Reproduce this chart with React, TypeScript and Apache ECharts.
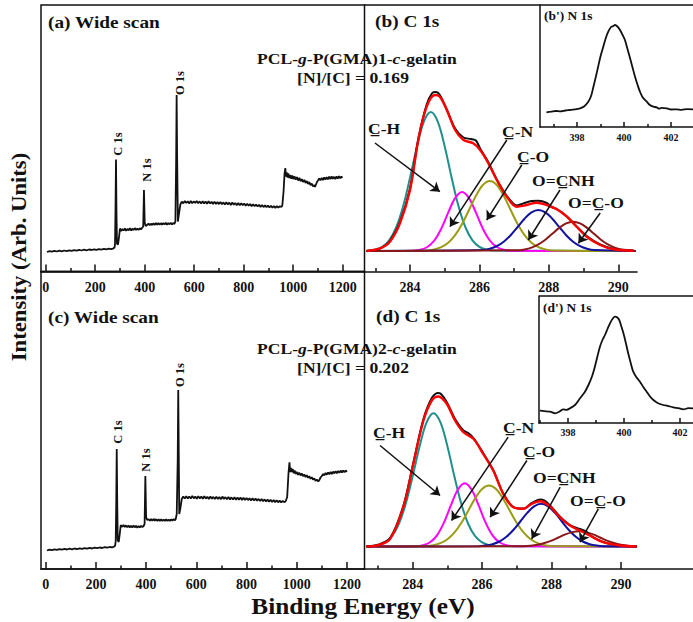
import React, { useEffect, useRef } from "react";
import * as echarts from "echarts";

const FONT = "Liberation Serif";
const INK = "#111";

// ---------- tick values ----------
const WIDE_TICKS = [0, 200, 400, 600, 800, 1000, 1200];
const WIDE_MINOR = [100, 300, 500, 700, 900, 1100];
const C1S_TICKS = [284, 286, 288, 290];
const C1S_MINOR = [283, 285, 287, 289];
const N1S_TICKS = [398, 400, 402];
const N1S_MINOR = [397, 399, 401, 403];

// ---------- (a) wide scan ----------
const WIDE_A = [
  [5, 19.5], [15, 20.3], [25, 19.8], [35, 20.6], [45, 20], [55, 20.8], [65, 20.2], [75, 21], [85, 20.4], [95, 21.2],
  [105, 20.6], [115, 21.3], [125, 20.8], [135, 21.6], [145, 21], [155, 21.8], [165, 21.2], [175, 22], [185, 21.5], [195, 22.2],
  [205, 21.6], [215, 22.3], [225, 21.9], [235, 22.6], [245, 22.1], [255, 22.9], [265, 22.4], [274, 23.2],
  [278, 24], [280, 27], [282, 62], [284, 112], [286, 58], [288, 28], [292, 27], [296, 34], [300, 43],
  [305, 40.5], [310, 42.5], [315, 41], [320, 43], [325, 40.8], [330, 42.6], [335, 41.2], [340, 43.2], [345, 41], [350, 42.8],
  [355, 41.4], [360, 43.4], [365, 41.6], [370, 43], [375, 41.5], [380, 43.3], [385, 42], [390, 43.8], [394, 45], [397, 81.5],
  [400, 49], [404, 45.5],
  [410, 46.5], [415, 48], [420, 46.2], [425, 47.8], [430, 46.4], [435, 48.2], [440, 46.6], [445, 48.4], [450, 46.8], [455, 48.6],
  [460, 46.7], [465, 48.3], [470, 46.9], [475, 48.5], [480, 47], [485, 48.7], [490, 46.8], [495, 48.4], [500, 47.2], [505, 48.8],
  [510, 47], [515, 48.5], [520, 47.6], [524, 50], [527, 110], [529, 176.5], [531, 115], [534, 50], [538, 57], [544, 67],
  [550, 69.8], [556, 68.2], [562, 70.5], [568, 68.5], [574, 70.2], [580, 68], [586, 70.6], [592, 68.3], [598, 70], [604, 68.6],
  [610, 70.4], [616, 68.2], [622, 70.1], [628, 67.9], [634, 70.3], [640, 68.1], [646, 69.9], [652, 67.8], [658, 70.2], [664, 68],
  [670, 69.6], [676, 67.6], [682, 69.8], [688, 67.5], [694, 69.4], [700, 67.4], [706, 69.6], [712, 67.2], [718, 69.1], [724, 67],
  [730, 69.3], [736, 67.1], [742, 68.8], [748, 66.6], [754, 68.9], [760, 66.8], [766, 68.5], [772, 66.3], [778, 68.4], [784, 66.2],
  [790, 68.1], [796, 66.4], [802, 67.9], [808, 65.8], [814, 67.8], [820, 65.9], [826, 67.4], [832, 65.4], [838, 67.3], [844, 65.2],
  [850, 67], [856, 65], [862, 66.8], [868, 64.6], [874, 66.5], [880, 64.4], [886, 66.2], [892, 64.3], [898, 65.9], [904, 64],
  [910, 65.8], [916, 63.8], [922, 65.5], [928, 63.6], [934, 65.4], [940, 63.9], [946, 65.2], [952, 64.5], [956, 66],
  [961, 80], [965, 98], [968, 103.5], [971, 95], [974, 99], [977, 94], [980, 98], [984, 93.5], [988, 96.5], [992, 92.8],
  [996, 96], [1000, 92.5], [1005, 95.2], [1010, 91.8], [1015, 94.4], [1020, 91], [1025, 93.6], [1030, 90.2], [1035, 92.4], [1040, 89.5],
  [1045, 91.6], [1050, 88.6], [1055, 90.4], [1060, 87.6], [1065, 89.4], [1070, 86.4], [1075, 88], [1080, 85.2], [1085, 86.5], [1088, 84.5],
  [1092, 87], [1096, 89.5], [1100, 91], [1105, 93], [1110, 91.2], [1115, 93.6], [1120, 91.5], [1125, 94], [1130, 92], [1135, 94.4],
  [1140, 92.2], [1145, 94.8], [1150, 92.4], [1155, 95], [1160, 92.6], [1165, 94.7], [1170, 92.3], [1175, 95.2], [1180, 92.8], [1185, 95.4],
  [1190, 93.2], [1195, 95], [1198, 93.5],
];

// ---------- (c) wide scan ----------
const WIDE_C = [
  [5, 18.5], [15, 19.4], [25, 18.9], [35, 19.7], [45, 19.1], [55, 19.9], [65, 19.3], [75, 20.1], [85, 19.5], [95, 20.3],
  [105, 19.7], [115, 20.5], [125, 19.9], [135, 20.7], [145, 20.1], [155, 20.9], [165, 20.3], [175, 21.1], [185, 20.5], [195, 21.3],
  [205, 20.8], [215, 21.5], [225, 21], [235, 21.8], [245, 21.3], [255, 22], [265, 21.6], [274, 22.5],
  [277, 24], [279, 28], [281, 65], [283, 120], [285, 66], [287, 29], [291, 27], [295, 35], [299, 44],
  [305, 42.2], [310, 44], [315, 42], [320, 43.6], [325, 41.8], [330, 43.5], [335, 41.6], [340, 43.2], [345, 41.5], [350, 43.4],
  [355, 41.7], [360, 43.1], [365, 41.4], [370, 43], [375, 41.6], [380, 43.2], [385, 41.8], [390, 43], [394, 45], [397, 93],
  [400, 52], [404, 49],
  [410, 49.8], [415, 48.2], [420, 49.9], [425, 48.3], [430, 50.1], [435, 48.4], [440, 49.8], [445, 48.1], [450, 49.7], [455, 48.2],
  [460, 49.6], [465, 48], [470, 49.5], [475, 48.1], [480, 49.7], [485, 48.2], [490, 49.4], [495, 48], [500, 49.6], [505, 48.3],
  [510, 49.8], [515, 48.6], [518, 50], [522, 55], [526, 110], [528, 179], [530, 118], [532, 55], [536, 60], [542, 70],
  [548, 72.5], [554, 70.6], [560, 72.8], [566, 70.4], [572, 72.6], [578, 70.5], [584, 72.9], [590, 70.7], [596, 72.4], [602, 70.3],
  [608, 72.7], [614, 70.6], [620, 72.5], [626, 70.2], [632, 72.8], [638, 70.4], [644, 72.3], [650, 70.1], [656, 72.4], [662, 70.3],
  [668, 72.1], [674, 69.9], [680, 72.2], [686, 70], [692, 71.9], [698, 69.8], [704, 72.4], [710, 70.1], [716, 71.8], [722, 69.7],
  [728, 71.9], [734, 69.6], [740, 71.6], [746, 69.4], [752, 71.7], [758, 69.3], [764, 71.4], [770, 69.2], [776, 71.5], [782, 69.1],
  [788, 71.2], [794, 69], [800, 71.1], [806, 68.9], [812, 70.8], [818, 68.6], [824, 70.7], [830, 68.4], [836, 70.5], [842, 68.2],
  [848, 70.1], [854, 68], [860, 69.9], [866, 67.8], [872, 69.6], [878, 67.5], [884, 69.4], [890, 67.3], [896, 69.2], [902, 67.1],
  [908, 68.9], [914, 66.9], [920, 68.7], [926, 66.7], [932, 68.4], [938, 66.6], [944, 68.2], [950, 66.8], [956, 67.8],
  [962, 72], [967, 95], [971, 106.6], [974, 97], [977, 101], [980, 97], [984, 100], [988, 95.8], [992, 98.4], [996, 95],
  [1000, 97.2], [1005, 94.2], [1010, 96.4], [1015, 93.5], [1020, 95.5], [1025, 92.8], [1030, 94.6], [1035, 92], [1040, 93.8], [1045, 91.2],
  [1050, 92.8], [1055, 90.2], [1060, 91.8], [1065, 89.4], [1070, 90.6], [1075, 88.2], [1080, 89.4], [1086, 87.6], [1090, 89], [1095, 91.5],
  [1100, 93], [1105, 95], [1110, 93.6], [1115, 96], [1120, 94.4], [1125, 96.6], [1130, 94.8], [1135, 97], [1140, 95], [1145, 97.4],
  [1150, 95.6], [1155, 97.8], [1160, 95.8], [1165, 98], [1170, 96.2], [1175, 98.4], [1180, 96.5], [1185, 98.6], [1190, 96.8], [1195, 98.5],
  [1200, 97.2],
];

// ---------- (b) C 1s ----------
const EXP_B = [
  [282.75, 20.5], [283.0, 21.5], [283.2, 24], [283.42, 30.5], [283.71, 49.5], [284.0, 83], [284.24, 133], [284.48, 167],
  [284.64, 178.5], [284.75, 179.5], [284.86, 176.5], [285.06, 162], [285.3, 143], [285.54, 134], [285.75, 132.5], [285.9, 131],
  [286.02, 123], [286.26, 109], [286.5, 92], [286.79, 75.5], [287.08, 66], [287.3, 68.5], [287.5, 70.5], [287.7, 70.8],
  [287.94, 68.5], [288.1, 64], [288.23, 62.5], [288.52, 55], [288.8, 45], [289.09, 35.5], [289.48, 27], [289.86, 22.5],
  [290.1, 21.5], [290.44, 20.8],
];
const FIT_B = [
  [282.75, 20.5], [283.14, 23.2], [283.42, 29.8], [283.71, 48.2], [284.0, 81.5], [284.24, 131.5], [284.48, 164.8], [284.72, 176.5],
  [284.86, 174.8], [285.06, 161.5], [285.3, 141.5], [285.54, 131.5], [285.82, 128.2], [286.02, 121.5], [286.26, 108.2], [286.5, 91.5],
  [286.79, 74.8], [287.08, 64.8], [287.36, 66.5], [287.65, 68.8], [287.94, 66.5], [288.23, 62.2], [288.52, 54.8], [288.8, 44.8],
  [289.09, 34.8], [289.48, 26.5], [289.86, 22.2], [290.44, 20.8],
];
const CH_B = [
  [282.75, 20.5], [282.8, 20.9], [283.0, 22.0], [283.2, 24.7], [283.4, 31.2], [283.6, 44.0], [283.8, 65.0], [284.0, 93.7],
  [284.2, 125.0], [284.4, 149.9], [284.6, 159.5], [284.8, 149.9], [285.0, 125.0], [285.2, 93.7], [285.4, 65.0], [285.6, 44.0],
  [285.8, 31.2], [286.0, 24.7], [286.2, 22.0], [286.4, 20.9], [290.5, 20.5],
];
const CN_B = [
  [282.75, 20.5], [284.1, 20.8], [284.3, 21.7], [284.5, 24.5], [284.7, 31.0], [284.9, 42.8], [285.1, 58.8], [285.3, 73.4],
  [285.5, 79.5], [285.7, 73.4], [285.9, 58.8], [286.1, 42.8], [286.3, 31.0], [286.5, 24.5], [286.7, 21.7], [286.9, 20.8], [290.5, 20.5],
];
const CO_B = [
  [282.75, 20.5], [284.5, 21.1], [284.7, 22.1], [284.9, 24.3], [285.1, 28.7], [285.3, 36.3], [285.5, 47.5], [285.7, 61.5],
  [285.9, 75.7], [286.1, 86.5], [286.3, 90.5], [286.5, 86.5], [286.7, 75.7], [286.9, 61.5], [287.1, 47.5], [287.3, 36.3],
  [287.5, 28.7], [287.7, 24.3], [287.9, 22.1], [288.1, 21.1], [290.5, 20.5],
];
const OCNH_B = [
  [282.75, 20.5], [286.1, 21.4], [286.3, 22.7], [286.5, 25.3], [286.7, 29.8], [286.9, 36.3], [287.1, 44.5], [287.3, 52.8],
  [287.5, 59.1], [287.7, 61.5], [287.9, 59.1], [288.1, 52.8], [288.3, 44.5], [288.5, 36.3], [288.7, 29.8], [288.9, 25.3],
  [289.1, 22.7], [289.3, 21.4], [290.5, 20.5],
];
const OCO_B = [
  [282.75, 20.5], [287.1, 21.2], [287.3, 22.1], [287.5, 23.9], [287.7, 27.1], [287.9, 31.8], [288.1, 37.7], [288.3, 43.6],
  [288.5, 48.1], [288.7, 49.8], [288.9, 48.1], [289.1, 43.6], [289.3, 37.7], [289.5, 31.8], [289.7, 27.1], [289.9, 23.9],
  [290.1, 22.1], [290.3, 21.2], [290.5, 20.5],
];

// ---------- (d) C 1s ----------
const EXP_D = [
  [282.67, 22.5], [283.0, 24.2], [283.35, 31], [283.73, 63], [284.02, 106.5], [284.31, 150], [284.55, 171], [284.72, 176],
  [284.8, 175.5], [284.98, 167], [285.22, 150], [285.46, 138.5], [285.6, 136], [285.75, 131], [286.03, 116], [286.32, 99],
  [286.61, 75.5], [286.9, 62], [287.19, 60.5], [287.43, 66], [287.67, 69.5], [287.8, 68.5], [287.96, 63.5], [288.24, 52.5],
  [288.53, 44], [288.82, 40], [289.0, 37.5], [289.1, 34], [289.49, 27], [289.97, 23.5], [290.46, 22.5],
];
const FIT_D = [
  [282.67, 22.5], [283.0, 23.8], [283.35, 30.2], [283.73, 61.8], [284.02, 105.2], [284.31, 148.5], [284.55, 168.5], [284.74, 172.5],
  [284.98, 165.2], [285.22, 148.5], [285.46, 136.8], [285.75, 130.2], [286.03, 115.2], [286.32, 98.5], [286.61, 75.2], [286.9, 61.8],
  [287.19, 60.2], [287.43, 65.2], [287.67, 67.8], [287.96, 62.5], [288.24, 51.8], [288.53, 43.5], [288.82, 38.5], [289.1, 33.5],
  [289.49, 26.8], [289.97, 23.5], [290.46, 22.5],
];
const CH_D = [
  [282.67, 22.5], [282.8, 22.9], [283.0, 23.9], [283.2, 26.6], [283.4, 32.8], [283.6, 45.0], [283.8, 65.2], [284.0, 92.7],
  [284.2, 122.7], [284.4, 146.6], [284.6, 155.8], [284.8, 146.6], [285.0, 122.7], [285.2, 92.7], [285.4, 65.2], [285.6, 45.0],
  [285.8, 32.8], [286.0, 26.6], [286.2, 23.9], [286.4, 22.9], [290.46, 22.5],
];
const CN_D = [
  [282.67, 22.5], [284.1, 22.8], [284.3, 23.8], [284.5, 26.7], [284.7, 33.7], [284.9, 46.4], [285.1, 63.6], [285.3, 79.3],
  [285.5, 85.8], [285.7, 79.3], [285.9, 63.6], [286.1, 46.4], [286.3, 33.7], [286.5, 26.7], [286.7, 23.8], [286.9, 22.8], [290.46, 22.5],
];
const CO_D = [
  [282.67, 22.5], [284.4, 23.0], [284.6, 23.8], [284.8, 25.8], [285.0, 29.7], [285.2, 36.3], [285.4, 46.0], [285.6, 58.2],
  [285.8, 70.6], [286.0, 80.0], [286.2, 83.5], [286.4, 80.0], [286.6, 70.6], [286.8, 58.2], [287.0, 46.0], [287.2, 36.3],
  [287.4, 29.7], [287.6, 25.8], [287.8, 23.8], [288.0, 23.0], [290.46, 22.5],
];
const OCNH_D = [
  [282.67, 22.5], [285.9, 22.8], [286.1, 23.4], [286.3, 24.8], [286.5, 27.5], [286.7, 32.2], [286.9, 39.0], [287.1, 47.5],
  [287.3, 56.1], [287.5, 62.7], [287.7, 65.2], [287.9, 62.7], [288.1, 56.1], [288.3, 47.5], [288.5, 39.0], [288.7, 32.2],
  [288.9, 27.5], [289.1, 24.8], [289.3, 23.4], [289.5, 22.8], [290.46, 22.5],
];
const OCO_D = [
  [282.67, 22.5], [287.2, 22.8], [287.4, 23.3], [287.6, 24.3], [287.8, 26.0], [288.0, 28.4], [288.2, 31.5], [288.4, 34.6],
  [288.6, 36.9], [288.8, 37.8], [289.0, 36.9], [289.2, 34.6], [289.4, 31.5], [289.6, 28.4], [289.8, 26.0], [290.0, 24.3],
  [290.2, 23.3], [290.4, 22.8], [290.46, 22.5],
];

// ---------- N 1s insets ----------
const N1S_B = [
  [396.7, 14.7], [396.9, 15.3], [397.1, 16], [397.3, 15.6], [397.5, 16.5], [397.7, 17], [397.9, 17.6], [398.13, 18.7],
  [398.3, 20.5], [398.48, 25.3], [398.6, 31], [398.7, 40.3], [398.8, 50], [398.9, 60.3], [399.0, 70.5], [399.12, 80.3],
  [399.22, 88.5], [399.33, 95.3], [399.45, 100], [399.55, 101], [399.62, 102], [399.72, 100.5], [399.83, 97], [399.93, 92.5],
  [400.04, 87], [400.15, 78], [400.26, 68.7], [400.37, 59], [400.47, 50.3], [400.58, 42], [400.68, 35.3], [400.8, 29.5],
  [400.97, 25.3], [401.1, 22], [401.25, 20.3], [401.39, 19.7], [401.5, 18.3], [401.6, 19.2], [401.82, 18.7], [402.0, 17.5],
  [402.24, 17.7], [402.45, 17.2], [402.7, 17.9], [402.94, 17.7], [403.1, 17.4],
];
const N1S_D = [
  [397.0, 12.3], [397.15, 11.8], [397.36, 11.3], [397.54, 9.7], [397.7, 11.5], [397.83, 13.7], [397.95, 13.2], [398.07, 14.7],
  [398.25, 18], [398.43, 24.7], [398.6, 31], [398.73, 38], [398.85, 46], [398.96, 56.3], [399.05, 66.5], [399.14, 76.3],
  [399.23, 83], [399.32, 88], [399.41, 94], [399.5, 99.7], [399.6, 104.5], [399.68, 106.3], [399.76, 105.5], [399.83, 103],
  [399.9, 97], [399.98, 89.7], [400.07, 79.5], [400.15, 69.7], [400.24, 60], [400.33, 51.3], [400.45, 45.5], [400.57, 41.3],
  [400.69, 36], [400.81, 31.3], [400.93, 26.5], [401.05, 23], [401.2, 20], [401.4, 18], [401.55, 17.2], [401.76, 15.7],
  [401.95, 14.8], [402.12, 13.7], [402.3, 14.8], [402.46, 14.7], [402.7, 14.2],
];

// ---------- component names, colours, arrows ----------
const COMPONENT_LABELS = ["C\u0332-H", "C\u0332-N", "C\u0332-O", "O=C\u0332NH", "O=C\u0332-O"];
const COMPONENT_COLORS = ["#1f8f8c", "#ff00ff", "#9c9c14", "#1212a0", "#8b1818"];
const ARROWS_B = [
  [[282.99, 128.5], [284.86, 79.8]],
  [[286.79, 131.5], [285.15, 44.8]],
  [[287.22, 106.5], [286.21, 51.5]],
  [[288.32, 81.5], [287.41, 31.5]],
  [[289.48, 58.5], [288.85, 28.2]],
];
const ARROWS_D = [
  [[283.06, 123.5], [284.79, 73.5]],
  [[286.75, 131.8], [285.12, 48.5]],
  [[287.29, 108.5], [286.23, 51.8]],
  [[288.25, 81.8], [287.43, 30.2]],
  [[289.35, 60.2], [288.82, 26.8]],
];

export default function App() {
  const ref = useRef<HTMLDivElement>(null);

  useEffect(() => {
    if (!ref.current) return;
    const chart = echarts.init(ref.current, undefined, { renderer: "svg" });

    const base = { outerBoundsMode: "none", containLabel: false };
    const grids: any[] = [
      { ...base, left: 41, top: 5, width: 323.5, height: 266.5, show: true, borderColor: INK, borderWidth: 1.5 }, // a
      { ...base, left: 364.5, top: 5, width: 272.5, height: 266.5, show: false }, // b
      { ...base, left: 540, top: 5, width: 200, height: 122, show: false }, // b'
      { ...base, left: 41, top: 271.5, width: 323.5, height: 297.5, show: true, borderColor: INK, borderWidth: 1.5 }, // c
      { ...base, left: 364.5, top: 271.5, width: 375.5, height: 297.5, show: false }, // d
      { ...base, left: 539, top: 296, width: 201, height: 127, show: false }, // d'
    ];

    const ranges = [
      [-19, 1288], [282.689, 290.54], [396.426, 404.937],
      [-18.7, 1270], [282.611, 293.432], [396.964, 404.143],
    ];
    const majors = [WIDE_TICKS, C1S_TICKS, N1S_TICKS, WIDE_TICKS, C1S_TICKS, N1S_TICKS];
    const minors = [WIDE_MINOR, C1S_MINOR, N1S_MINOR, WIDE_MINOR, C1S_MINOR, N1S_MINOR];
    const small = [false, false, true, false, false, true];
    const margins = [9, 9, 5, 8, 8, 4];

    const xAxes: any[] = [];
    grids.forEach((_, g) => {
      const s = small[g];
      const fs = s ? 10 : 14;
      xAxes.push({
        type: "value", gridIndex: g, min: ranges[g][0], max: ranges[g][1], position: "bottom",
        axisLine: { show: true, onZero: false, lineStyle: { color: INK, width: 1.5 } },
        axisTick: { show: true, inside: true, length: s ? 5 : 7, customValues: majors[g], lineStyle: { color: INK, width: 1.5 } },
        axisLabel: {
          show: true, customValues: majors[g], margin: margins[g], fontSize: fs,
          fontWeight: "bold", fontFamily: FONT, color: INK,
          formatter: (v: number) => "{t|" + String(v) + "}",
          rich: { t: { fontFamily: FONT, fontWeight: "bold", fontSize: fs, color: INK } },
        },
        splitLine: { show: false },
      });
      xAxes.push({
        type: "value", gridIndex: g, min: ranges[g][0], max: ranges[g][1], position: "bottom",
        axisLine: { show: false, onZero: false },
        axisTick: { show: true, inside: true, length: s ? 3 : 3.5, customValues: minors[g], lineStyle: { color: INK, width: 1.5 } },
        axisLabel: { show: false },
        splitLine: { show: false },
      });
    });

    const yAxes = grids.map((gr, g) => ({
      type: "value", gridIndex: g, min: 0, max: gr.height,
      show: g === 2 || g === 5,
      position: "left",
      axisLine: { show: true, onZero: false, lineStyle: { color: INK, width: 1.5 } },
      axisTick: { show: false }, axisLabel: { show: false }, splitLine: { show: false },
    }));

    const line = (data: number[][], xi: number, yi: number, color: string, width: number, smooth: number | boolean = false, z = 3) => ({
      type: "line", xAxisIndex: xi, yAxisIndex: yi, data, showSymbol: false, smooth, silent: true, z,
      lineStyle: { color, width }, emphasis: { disabled: true },
    });
    const arrows = (list: number[][][], xi: number, yi: number) => ({
      type: "lines", coordinateSystem: "cartesian2d", xAxisIndex: xi, yAxisIndex: yi, silent: true, z: 6,
      symbol: ["none", "arrow"], symbolSize: [0, 9],
      lineStyle: { color: INK, width: 1.5, opacity: 1 },
      data: list.map((c) => ({ coords: c })),
    });

    const compsB = [CH_B, CN_B, CO_B, OCNH_B, OCO_B];
    const compsD = [CH_D, CN_D, CO_D, OCNH_D, OCO_D];

    const series: any[] = [
      line(WIDE_A, 0, 0, INK, 1.8),
      ...compsB.map((d, k) => line(d, 2, 1, COMPONENT_COLORS[k], 2, 0.35, 3)),
      line(EXP_B, 2, 1, INK, 2, 0.3, 4),
      line(FIT_B, 2, 1, "#ff0000", 2.4, 0.35, 5),
      arrows(ARROWS_B, 2, 1),
      line(N1S_B, 4, 2, INK, 1.8, 0.3),
      line(WIDE_C, 6, 3, INK, 1.8),
      ...compsD.map((d, k) => line(d, 8, 4, COMPONENT_COLORS[k], 2, 0.35, 3)),
      line(EXP_D, 8, 4, INK, 2, 0.3, 4),
      line(FIT_D, 8, 4, "#ff0000", 2.4, 0.35, 5),
      arrows(ARROWS_D, 8, 4),
      line(N1S_D, 10, 5, INK, 1.8, 0.3),
    ];

    const txt = (text: string, x: number, y: number, size: number, opts: any = {}) => ({
      type: "text", x, y, z: 10, silent: true,
      scaleX: opts.scaleX ?? 1.17, scaleY: opts.scaleY ?? 1, rotation: opts.rotation ?? 0,
      style: {
        text, fill: INK, fontFamily: FONT, fontWeight: "bold", fontSize: size,
        fontStyle: "normal",
        align: opts.align ?? "left", verticalAlign: "middle",
        textAlign: opts.align ?? "left", textVerticalAlign: "middle",
        rich: opts.rich,
      },
    });
    const rich = {
      n: { fontFamily: FONT, fontWeight: "bold", fontSize: 15, fill: INK },
      i: { fontFamily: FONT, fontWeight: "bold", fontStyle: "italic", fontSize: 15, fill: INK },
    };

    const labelPosB = [[368, 129], [502, 132], [517, 157], [532, 181], [568, 203]];
    const labelPosD = [[373, 433], [503, 428], [523, 452], [533, 478], [570, 501]];

    const graphic: any[] = [
      { type: "line", z: 10, silent: true, shape: { x1: 364, y1: 5, x2: 693, y2: 5 }, style: { stroke: INK, lineWidth: 1.5 } },
      { type: "line", z: 10, silent: true, shape: { x1: 539, y1: 296, x2: 693, y2: 296 }, style: { stroke: INK, lineWidth: 1.5 } },
      txt("(a) Wide scan", 48, 22, 16.5),
      txt("(c) Wide scan", 48, 317, 16.5),
      txt("(b) C 1s", 375, 21, 16.5),
      txt("(d) C 1s", 376, 316, 16.5),
      txt("(b') N 1s", 544, 16, 11.5),
      txt("(d') N 1s", 543, 308, 11.5),
      txt("{n|PCL-}{i|g}{n|-P(GMA)1-}{i|c}{n|-gelatin}", 357, 59, 15, { align: "center", rich }),
      txt("[N]/[C] = 0.169", 353, 78, 15, { align: "center" }),
      txt("{n|PCL-}{i|g}{n|-P(GMA)2-}{i|c}{n|-gelatin}", 357, 349, 15, { align: "center", rich }),
      txt("[N]/[C] = 0.202", 353, 368, 15, { align: "center" }),
      txt("C 1s", 118, 144, 12.5, { align: "center", rotation: Math.PI / 2, scaleX: 1 }),
      txt("N 1s", 147, 170, 12.5, { align: "center", rotation: Math.PI / 2, scaleX: 1 }),
      txt("O 1s", 180, 83, 12.5, { align: "center", rotation: Math.PI / 2, scaleX: 1 }),
      txt("C 1s", 118, 432, 12.5, { align: "center", rotation: Math.PI / 2, scaleX: 1 }),
      txt("N 1s", 146, 460, 12.5, { align: "center", rotation: Math.PI / 2, scaleX: 1 }),
      txt("O 1s", 180, 375, 12.5, { align: "center", rotation: Math.PI / 2, scaleX: 1 }),
      ...COMPONENT_LABELS.map((t, k) => txt(t, labelPosB[k][0], labelPosB[k][1], 15)),
      ...COMPONENT_LABELS.map((t, k) => txt(t, labelPosD[k][0], labelPosD[k][1], 15)),
      txt("Binding Energy (eV)", 363, 606, 23, { align: "center", scaleX: 1.1 }),
      txt("Intensity (Arb. Units)", 19, 257, 21, { align: "center", rotation: Math.PI / 2, scaleX: 1.08 }),
    ];

    chart.setOption({
      animation: false,
      backgroundColor: "#fff",
      grid: grids,
      xAxis: xAxes,
      yAxis: yAxes,
      series,
      graphic,
    });

    return () => chart.dispose();
  }, []);

  return (
    <div
      ref={ref}
      style={{ position: "absolute", left: 0, top: 0, width: 693, height: 622, background: "#fff" }}
    />
  );
}
